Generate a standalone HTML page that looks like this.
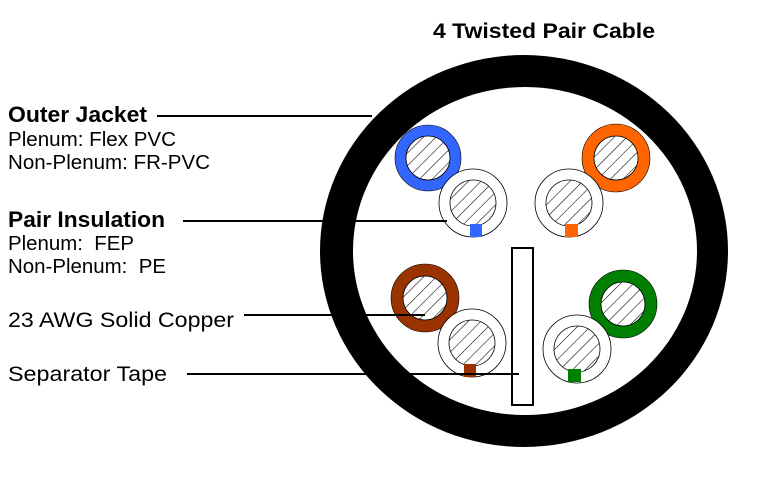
<!DOCTYPE html>
<html><head><style>
html,body{margin:0;padding:0;background:#fff;}
svg{display:block;}
text{font-family:"Liberation Sans",Arial,sans-serif;fill:#000;}
</style></head><body>
<svg width="761" height="479" viewBox="0 0 761 479" xmlns="http://www.w3.org/2000/svg">
<defs>
<pattern id="h" patternUnits="userSpaceOnUse" width="9" height="9" patternTransform="rotate(45)">
<rect width="9" height="9" fill="#fff"/>
<line x1="0" y1="0" x2="0" y2="9" stroke="#000" stroke-width="1.1"/>
</pattern>
</defs>
<text x="433" y="38" font-size="21" font-weight="bold" textLength="222" lengthAdjust="spacingAndGlyphs">4 Twisted Pair Cable</text>
<ellipse cx="524" cy="251" rx="204" ry="196" fill="#000"/>
<ellipse cx="525" cy="251" rx="172" ry="164" fill="#fff"/>

<circle cx="428" cy="158" r="33" fill="#3366ff" stroke="#000" stroke-width="0.6"/>
<circle cx="428" cy="158" r="22" fill="url(#h)" stroke="#000" stroke-width="0.8"/>
<circle cx="473" cy="203" r="34" fill="#fff" stroke="#000" stroke-width="0.8"/>
<circle cx="473" cy="203" r="23" fill="url(#h)" stroke="#000" stroke-width="0.8"/>
<rect x="470" y="224" width="12" height="13" fill="#3366ff"/>

<circle cx="616" cy="158" r="34" fill="#ff6600" stroke="#000" stroke-width="0.6"/>
<circle cx="616" cy="158" r="22" fill="url(#h)" stroke="#000" stroke-width="0.8"/>
<circle cx="569" cy="203" r="34" fill="#fff" stroke="#000" stroke-width="0.8"/>
<circle cx="569" cy="203" r="23" fill="url(#h)" stroke="#000" stroke-width="0.8"/>
<rect x="565" y="224" width="13" height="13" fill="#ff6600"/>

<circle cx="425" cy="298" r="34" fill="#993300" stroke="#000" stroke-width="0.6"/>
<circle cx="425" cy="298" r="22" fill="url(#h)" stroke="#000" stroke-width="0.8"/>
<circle cx="472" cy="343" r="34" fill="#fff" stroke="#000" stroke-width="0.8"/>
<circle cx="472" cy="343" r="23" fill="url(#h)" stroke="#000" stroke-width="0.8"/>
<rect x="464" y="364" width="12" height="13" fill="#993300"/>

<circle cx="623" cy="304" r="34" fill="#008000" stroke="#000" stroke-width="0.6"/>
<circle cx="623" cy="304" r="22" fill="url(#h)" stroke="#000" stroke-width="0.8"/>
<circle cx="577" cy="349" r="34" fill="#fff" stroke="#000" stroke-width="0.8"/>
<circle cx="577" cy="349" r="23" fill="url(#h)" stroke="#000" stroke-width="0.8"/>
<rect x="568" y="369" width="13" height="13" fill="#008000"/>

<rect x="512" y="248" width="21" height="157" fill="#fff" stroke="#000" stroke-width="2"/>

<g stroke="#000" stroke-width="2">
<line x1="157" y1="116" x2="372" y2="116"/>
<line x1="183" y1="221" x2="447" y2="221"/>
<line x1="244" y1="315" x2="425" y2="315"/>
<line x1="187" y1="374" x2="519" y2="374"/>
</g>

<text x="8" y="122" font-size="22" font-weight="bold" textLength="139" lengthAdjust="spacingAndGlyphs">Outer Jacket</text>
<text x="8" y="146" font-size="20" textLength="168" lengthAdjust="spacingAndGlyphs">Plenum: Flex PVC</text>
<text x="8" y="169" font-size="20" textLength="202" lengthAdjust="spacingAndGlyphs">Non-Plenum: FR-PVC</text>
<text x="8" y="227" font-size="22" font-weight="bold" textLength="157" lengthAdjust="spacingAndGlyphs">Pair Insulation</text>
<text x="8" y="250" font-size="20" xml:space="preserve" textLength="126" lengthAdjust="spacingAndGlyphs">Plenum:  FEP</text>
<text x="8" y="273" font-size="20" xml:space="preserve" textLength="158" lengthAdjust="spacingAndGlyphs">Non-Plenum:  PE</text>
<text x="8" y="327" font-size="21" textLength="226" lengthAdjust="spacingAndGlyphs">23 AWG Solid Copper</text>
<text x="8" y="381" font-size="21" textLength="159" lengthAdjust="spacingAndGlyphs">Separator Tape</text>
</svg>
</body></html>
